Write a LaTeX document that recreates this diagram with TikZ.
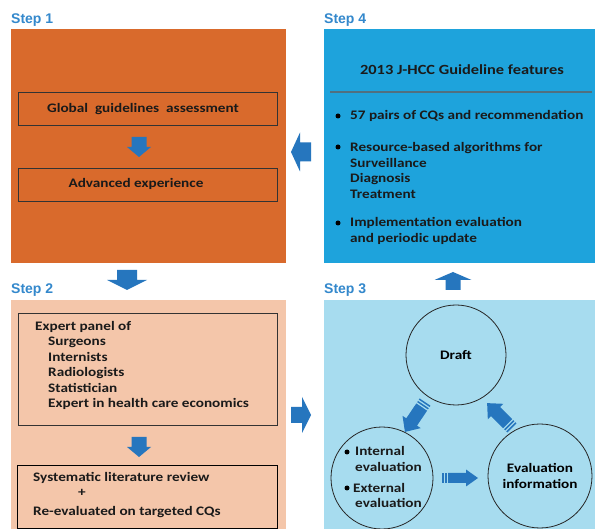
\documentclass[tikz,border=0pt]{standalone}
\usepackage{fontspec}
\setmainfont{Carlito}[FakeStretch=1.17]
\newfontfamily\arialf{Liberation Sans}
\definecolor{sone}{HTML}{D96A2C}
\definecolor{sfour}{HTML}{1EA3DC}
\definecolor{stwo}{HTML}{F4C6AA}
\definecolor{sthree}{HTML}{A7DCEF}
\definecolor{arrowblue}{HTML}{2676BE}
\definecolor{steplabel}{HTML}{3388CC}
\definecolor{txt}{HTML}{1A1A1A}
\definecolor{sepline}{HTML}{51707F}
\tikzset{
  panel/.style={anchor=north west, inner sep=0pt, outer sep=0pt},
  innerbox/.style={draw=black!80, line width=0.9pt, anchor=north west, inner sep=0pt, fill=none},
  steplbl/.style={anchor=west, inner sep=0pt, text=steplabel, font=\arialf\bfseries\fontsize{14}{16}\selectfont},
  tx/.style={inner sep=0pt, text=txt},
  ring/.style={draw=black!85, line width=0.8pt, circle, minimum size=#1, inner sep=0pt},
  pics/blockarrow/.style n args={4}{code={
    \fill[arrowblue] ({-#1/2},{-#2}) -- ({#1/2-#4},{-#2}) -- ({#1/2-#4},{-#3}) -- ({#1/2},0)
      -- ({#1/2-#4},{#3}) -- ({#1/2-#4},{#2}) -- ({-#1/2},{#2}) -- cycle;
  }},
  pics/stripearrow/.style n args={4}{code={
    \fill[arrowblue] ({-#1/2},{-#2}) rectangle ({-#1/2+1.5},{#2});
    \fill[arrowblue] ({-#1/2+3},{-#2}) rectangle ({-#1/2+4.5},{#2});
    \fill[arrowblue] ({-#1/2+6},{-#2}) -- ({#1/2-#4},{-#2}) -- ({#1/2-#4},{-#3}) -- ({#1/2},0)
      -- ({#1/2-#4},{#3}) -- ({#1/2-#4},{#2}) -- ({-#1/2+6},{#2}) -- cycle;
  }},
}
\begin{document}
\begin{tikzpicture}[x=1pt,y=-1pt,font=\bfseries\fontsize{13}{15.5}\selectfont]
\useasboundingbox (0,0) rectangle (595,529);
\fill[white] (0,0) rectangle (595,529);

% panels
\node[panel, fill=sone, minimum width=275pt, minimum height=234pt] (p1) at (11,29) {};
\node[panel, fill=sfour, minimum width=271pt, minimum height=234pt] (p4) at (324,29) {};
\node[panel, fill=stwo, minimum width=275pt, minimum height=229pt] (p2) at (11,300) {};
\node[panel, fill=sthree, minimum width=271pt, minimum height=229pt] (p3) at (324,300) {};

% step labels
\node[steplbl] (l1) at (11,20) {Step 1};
\node[steplbl] (l4) at (324,20) {Step 4};
\node[steplbl] (l2) at (11,290) {Step 2};
\node[steplbl] (l3) at (324,290) {Step 3};

% step 1
\node[innerbox, minimum width=259pt, minimum height=33pt] (b11) at (18,92) {};
\node[innerbox, minimum width=259pt, minimum height=33pt] (b12) at (18,168) {};
\node[tx] (t11) at (143,109) {Global\ \ guidelines\ \ assessment};
\node[tx] (t12) at (136,184) {Advanced experience};
\pic[rotate=-90] at (139,147) {blockarrow={20}{7.5}{12}{10}};

% step 4
\node[tx, font=\bfseries\fontsize{14}{17}\selectfont] (t4) at (462,70) {2013 J-HCC Guideline features};
\draw[sepline, line width=1.5pt] (330,92) -- (592,92);
\fill[black] (338,116) circle (2.5);
\fill[black] (338,147) circle (2.5);
\fill[black] (338,223) circle (2.5);
\node[tx, anchor=west] (f1) at (350,116) {57 pairs of CQs and recommendation};
\node[tx, anchor=west, align=left] (f2) at (350,170.5) {Resource-based algorithms for\\Surveillance\\Diagnosis\\Treatment};
\node[tx, anchor=west, align=left] (f3) at (350,231) {Implementation evaluation\\and periodic update};

% step 2
\node[innerbox, minimum width=259pt, minimum height=112pt] (b21) at (18,313) {};
\node[innerbox, draw=black, minimum width=260pt, minimum height=63pt] (b22) at (17,465) {};
\node[tx, anchor=west, align=left] (t21) at (35,365.5) {Expert panel of\\\hspace{13pt}Surgeons\\\hspace{13pt}Internists\\\hspace{13pt}Radiologists\\\hspace{13pt}Statistician\\\hspace{13pt}Expert in health care economics};
\pic[rotate=-90] at (139,447) {blockarrow={20}{7.5}{12}{10}};
\node[tx, anchor=west] (t22) at (33,478) {Systematic literature review};
\node[tx] (t23) at (82,493) {+};
\node[tx, anchor=west] (t24) at (33,512) {Re-evaluated on targeted CQs};

% step 3
\node[ring=100pt] (draft) at (456,355) {Draft};
\node[ring=102pt] (inteval) at (382,478) {};
\node[ring=104pt, align=center] (evalinfo) at (540,476) {Evaluation\\information};
\fill[black] (347,452) circle (2.5);
\fill[black] (347,488) circle (2.5);
\node[tx, anchor=west, align=left] (ie1) at (355,459) {Internal\\evaluation};
\node[tx, anchor=west, align=left] (ie2) at (353,495.5) {External\\\hspace{2pt}evaluation};

\pic[rotate=236] at (415,417) {stripearrow={36}{6.5}{11}{12}};
\pic[rotate=0] at (460,478) {stripearrow={36}{5}{8.5}{12}};
\pic[rotate=135] at (499.5,415.5) {stripearrow={35}{6.5}{11}{12}};

% arrows between steps
\pic[rotate=-90] at (127,280) {blockarrow={20}{10}{20}{10}};
\pic[rotate=180] at (301,152) {blockarrow={20}{9.5}{19.5}{9}};
\pic[rotate=0] at (301,415) {blockarrow={20}{8}{18}{9}};
\pic[rotate=90] at (453,281) {blockarrow={18}{7.5}{18.5}{8}};
\end{tikzpicture}
\end{document}
